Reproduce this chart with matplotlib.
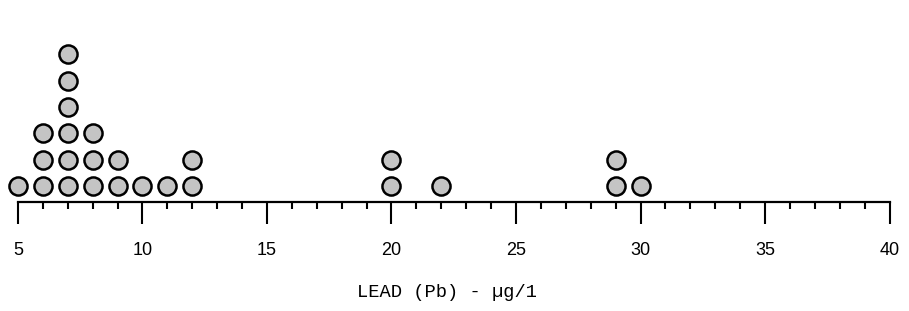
import matplotlib.pyplot as plt
import numpy as np

# lead concentration (ug/l) and number of samples at that value
lead = [5, 6, 7, 8, 9, 10, 11, 12, 20, 22, 29, 30]
counts = [1, 3, 6, 3, 2, 1, 1, 2, 2, 1, 2, 1]
tick_vals = [5, 10, 15, 20, 25, 30, 35, 40]
tick_strs = ['5', '10', '15', '20', '25', '30', '35', '40']

# one point per sample, stacked upward
xs = []
ys = []
for v, n in zip(lead, counts):
    for k in range(n):
        xs.append(v)
        ys.append(k + 0.6)

fig = plt.figure(figsize=(9.09, 3.11), dpi=100)
ax = fig.add_axes([0, 0, 1, 1])
ax.set_xlim(4.28, 40.78)
ax.set_ylim(-4.13, 7.65)

ax.scatter(xs, ys, s=170, facecolor='#c4c4c4', edgecolor='black', linewidth=1.8, zorder=3)

for s in ['top', 'left', 'right']:
    ax.spines[s].set_visible(False)
ax.spines['bottom'].set_position(('data', 0))
ax.spines['bottom'].set_bounds(5, 40)
ax.spines['bottom'].set_linewidth(1.6)
ax.set_yticks([])

ax.set_xticks(tick_vals)
ax.set_xticklabels(tick_strs, family='Liberation Sans', fontsize=13)
ax.set_xticks(np.arange(5, 41, 1), minor=True)
ax.tick_params(axis='x', which='major', direction='out', length=16, width=1.5, pad=13)
ax.tick_params(axis='x', which='minor', direction='out', length=5, width=1.5)

fig.text(0.492, 0.061, 'LEAD (Pb) - \u00b5g/1', family='Liberation Mono', fontsize=13.5,
         ha='center', va='center')

fig.savefig('out.png', dpi=100)
